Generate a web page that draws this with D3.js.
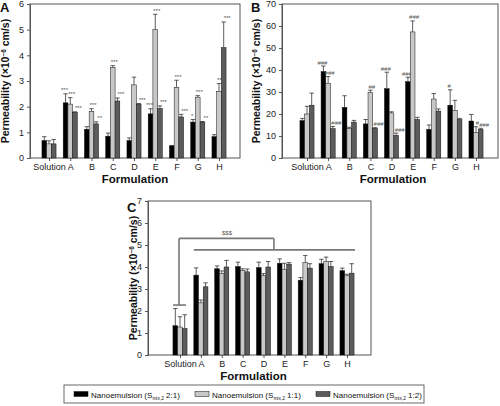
<!DOCTYPE html>
<html><head><meta charset="utf-8">
<script src="https://cdn.jsdelivr.net/npm/d3@7"></script>
<style>body{margin:0;background:#fff}svg{display:block;font-family:"Liberation Sans",Arial,sans-serif}</style>
</head><body><svg id="c" width="500" height="406"></svg>
<script>
const categories = ["Solution","A","B","C","D","E","F","G","H"];
const seriesNames = ["2:1","1:1","1:2"];
const seriesColors = ["#000000","#c8c8c8","#5c5c5c"];

// Panel A (x10^-6 cm/s)
const aTicks = [0,1,2,3,4,5,6];
const aS1 = [0.68,2.15,1.12,0.85,0.68,1.72,0.47,1.40,0.83];
const aS2 = [0.55,2.10,1.82,3.52,2.85,5.00,2.75,2.37,2.60];
const aS3 = [0.55,1.78,1.33,2.22,2.10,1.93,1.60,1.40,4.30];
const aE1 = [0.15,0.35,0.10,0.12,0.10,0.20,0.02,0.10,0.08];
const aE2 = [0.12,0.25,0.10,0.08,0.30,0.60,0.28,0.06,0.30];
const aE3 = [0.17,0.02,0.08,0.12,0.02,0.10,0.10,0.02,1.00];
const aSig1 = ["","***","","","","***","","*",""];
const aSig2 = ["","***","***","***","","***","***","***","***"];
const aSig3 = ["","***","**","***","***","***","***","**","***"];

// Panel B
const bTicks = [0,10,20,30,40,50,60,70];
const bS1 = [17.0,39.3,23.0,15.5,31.5,34.7,13.0,24.0,16.8];
const bS2 = [20.0,34.0,13.5,29.8,20.5,57.3,26.8,21.7,11.7];
const bS3 = [24.0,13.3,16.3,13.5,10.3,17.5,21.3,17.5,13.0];
const bE1 = [1.0,2.5,5.3,2.0,7.5,2.0,2.0,7.0,3.0];
const bE2 = [3.5,3.0,0.5,1.0,0.5,5.0,2.5,4.5,2.5];
const bE3 = [5.5,1.0,0.8,0.3,1.0,1.0,1.0,0.5,0.5];
const bSig1 = ["","###","","","###","###","","#",""];
const bSig2 = ["","###","","##","","###","","","#"];
const bSig3 = ["","###","","###","###","","","","###"];

// Panel C
const cTicks = [0,1,2,3,4,5,6,7];
const cS1 = [1.33,3.63,3.92,4.02,3.97,4.17,3.40,4.15,3.83];
const cS2 = [1.27,2.37,3.70,3.85,3.60,3.90,4.20,4.25,3.60];
const cS3 = [1.20,3.10,4.00,3.78,4.00,4.13,3.95,4.02,3.72];
const cE1 = [0.78,0.33,0.13,0.20,0.25,0.20,0.12,0.20,0.12];
const cE2 = [0.47,0.13,0.12,0.07,0.10,0.27,0.32,0.20,0.07];
const cE3 = [0.63,0.18,0.30,0.13,0.25,0.07,0.20,0.23,0.43];
const cBracket = {solutionLevel:2.27, topLevel:5.3, groupLevel:4.78, label:"$$$"};

const svg = d3.select("#c");
const sigOffset = [-1, 1.5, 3.5];

function panel(cfg){
  const g = svg.append("g");
  const x = d3.scalePoint().domain(categories).range([cfg.x0, cfg.x1]);
  const yMax = d3.max(cfg.ticks);
  const y = d3.scaleLinear().domain([0, yMax]).range([cfg.bottom, cfg.top]);
  const bw = 4.7;
  g.append("rect").attr("x",cfg.left).attr("y",cfg.top).attr("width",cfg.right-cfg.left)
    .attr("height",cfg.bottom-cfg.top).attr("fill","none").attr("stroke","#555").attr("stroke-width",1);
  const ya = g.append("g").attr("transform",`translate(${cfg.left},0)`)
    .call(d3.axisLeft(y).tickValues(cfg.ticks).tickSize(3).tickPadding(3).tickFormat(d3.format("d")));
  ya.select(".domain").attr("stroke","#555");
  ya.selectAll("line").attr("stroke","#555");
  ya.selectAll("text").attr("font-size",9).attr("fill","#222").attr("font-family","Liberation Sans, Arial, sans-serif");
  const xa = g.append("g").attr("transform",`translate(0,${cfg.bottom})`)
    .call(d3.axisBottom(x).tickSize(3).tickPadding(3));
  xa.select(".domain").remove();
  xa.selectAll("line").attr("stroke","#555");
  xa.selectAll("text").attr("font-size",9).attr("fill","#222").attr("font-family","Liberation Sans, Arial, sans-serif");
  cfg.series.forEach((vals,si)=>{
    const off = (si-1)*bw;
    categories.forEach((c,i)=>{
      const cx = x(c)+off;
      const v = vals[i], e = cfg.errs[si][i];
      const yt = y(v+e);
      g.append("line").attr("x1",cx).attr("x2",cx).attr("y1",y(v)).attr("y2",yt).attr("stroke","#333").attr("stroke-width",0.8);
      g.append("line").attr("x1",cx-2.2).attr("x2",cx+2.2).attr("y1",yt).attr("y2",yt).attr("stroke","#333").attr("stroke-width",0.8);
      g.append("rect").attr("x",cx-bw/2).attr("y",y(v)).attr("width",bw).attr("height",y(0)-y(v))
        .attr("fill",seriesColors[si]).attr("stroke","#111").attr("stroke-width",0.5);
      if(cfg.sigs && cfg.sigs[si][i]){
        g.append("text").attr("x",cx+sigOffset[si]).attr("y",yt-1.5).attr("text-anchor","middle")
          .attr("font-size",6).attr("fill","#555").text(cfg.sigs[si][i]);
      }
    });
  });
  g.append("text").attr("x",(cfg.left+cfg.right)/2+cfg.fdx).attr("y",cfg.bottom+25).attr("text-anchor","middle")
    .attr("font-size",11.5).attr("font-weight","bold").attr("fill","#111").text("Formulation");
  const yl = g.append("text").attr("transform",`translate(${cfg.ylx},${(cfg.top+cfg.bottom)/2}) rotate(-90)`)
    .attr("text-anchor","middle").attr("font-size",10.5).attr("font-weight","bold").attr("fill","#111");
  yl.append("tspan").text("Permeability (×10");
  yl.append("tspan").attr("dy",-3.5).attr("font-size",6.5).text("−6");
  yl.append("tspan").attr("dy",3.5).text(" cm/s)");
  g.append("text").attr("x",cfg.lx).attr("y",cfg.ly).attr("font-size",13).attr("font-weight","bold").attr("fill","#111").text(cfg.letter);
  return {x,y,g};
}

panel({left:30,right:240,top:4,bottom:158,x0:49,x1:219,ticks:aTicks,ylx:9,fdx:0,lx:0,ly:12,letter:"A",
  series:[aS1,aS2,aS3],errs:[aE1,aE2,aE3],sigs:[aSig1,aSig2,aSig3]});
panel({left:282,right:498,top:4,bottom:158,x0:307,x1:476,ticks:bTicks,ylx:260,fdx:3,lx:251,ly:12,letter:"B",
  series:[bS1,bS2,bS3],errs:[bE1,bE2,bE3],sigs:[bSig1,bSig2,bSig3]});
const pc = panel({left:148,right:371,top:201,bottom:355,x0:180,x1:347,ticks:cTicks,ylx:137,fdx:-6,lx:127,ly:212,letter:"C",
  series:[cS1,cS2,cS3],errs:[cE1,cE2,cE3],sigs:null});

{
  const {x,y,g} = pc;
  const st = {stroke:"#777","stroke-width":1.6,fill:"none"};
  const xs = x("Solution");
  const xA = x("A")-7, xH = x("H")+8;
  const xm = (x("D")+x("E"))/2;
  const line = (x1,y1,x2,y2)=>{const l=g.append("line").attr("x1",x1).attr("y1",y1).attr("x2",x2).attr("y2",y2);Object.entries(st).forEach(([k,v])=>l.attr(k,v));};
  line(xs-7,y(cBracket.solutionLevel),xs+6,y(cBracket.solutionLevel));
  line(xs-1,y(cBracket.solutionLevel),xs-1,y(cBracket.topLevel));
  line(xs-1,y(cBracket.topLevel),xm,y(cBracket.topLevel));
  line(xm,y(cBracket.topLevel),xm,y(cBracket.groupLevel));
  line(xA,y(cBracket.groupLevel),xH,y(cBracket.groupLevel));
  g.append("text").attr("x",(xs+xm)/2).attr("y",y(cBracket.topLevel)-3).attr("text-anchor","middle")
    .attr("font-size",6).attr("fill","#555").text(cBracket.label);
}

{
  const lg = svg.append("g");
  lg.append("rect").attr("x",64).attr("y",385).attr("width",360).attr("height",18).attr("fill","#fff").attr("stroke","#444").attr("stroke-width",0.8);
  const xs = [74,195,316];
  seriesNames.forEach((n,i)=>{
    lg.append("rect").attr("x",xs[i]).attr("y",391.5).attr("width",14).attr("height",5).attr("fill",seriesColors[i]).attr("stroke","#111").attr("stroke-width",0.5);
    const t = lg.append("text").attr("x",xs[i]+17).attr("y",397.5).attr("font-size",8).attr("fill","#111");
    t.append("tspan").text("Nanoemulsion (S");
    t.append("tspan").attr("dy",2).attr("font-size",4.8).text("mix,2");
    t.append("tspan").attr("dy",-2).text(" "+n+")");
  });
}
</script></body></html>
